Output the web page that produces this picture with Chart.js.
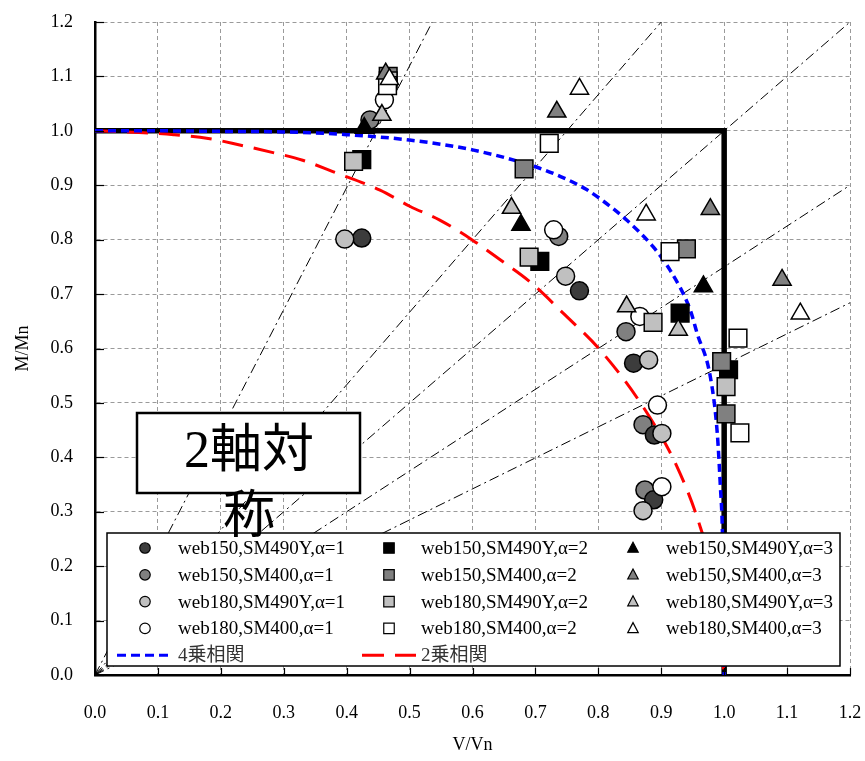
<!DOCTYPE html>
<html><head><meta charset="utf-8">
<script src="https://cdn.jsdelivr.net/npm/chart.js@4/dist/chart.umd.min.js"></script>
<style>html,body{margin:0;padding:0;background:#fff}#wrap{width:865px;height:761px;position:relative}</style>
</head><body><div id="wrap"><canvas id="c" width="865" height="761"></canvas></div>
<script>
// ---- tick labels ----
const xTicks = [0,0.1,0.2,0.3,0.4,0.5,0.6,0.7,0.8,0.9,1.0,1.1,1.2];
const xTickLabels = ['0.0','0.1','0.2','0.3','0.4','0.5','0.6','0.7','0.8','0.9','1.0','1.1','1.2'];
const yTicks = [0,0.1,0.2,0.3,0.4,0.5,0.6,0.7,0.8,0.9,1.0,1.1,1.2];
const yTickLabels = ['0.0','0.1','0.2','0.3','0.4','0.5','0.6','0.7','0.8','0.9','1.0','1.1','1.2'];

// ---- series names ----
const seriesNames = ['web150,SM490Y','web150,SM400','web180,SM490Y','web180,SM400'];
const alphaLabels = ['α=1','α=2','α=3'];

// ---- α=1 (circles) [V/Vn, M/Mn] ----
const c_w150_SM490Y = [[0.424,0.803],[0.770,0.706],[0.856,0.573],[0.889,0.441],[0.888,0.322]];
const c_w150_SM400  = [[0.437,1.020],[0.737,0.806],[0.844,0.631],[0.871,0.460],[0.874,0.340]];
const c_w180_SM490Y = [[0.397,0.801],[0.748,0.733],[0.880,0.579],[0.901,0.444],[0.871,0.302]];
const c_w180_SM400  = [[0.460,1.057],[0.729,0.818],[0.866,0.659],[0.894,0.496],[0.901,0.346]];

// ---- α=2 (squares) ----
const s_w150_SM490Y = [[0.424,0.947],[0.707,0.760],[0.930,0.665],[1.007,0.561]];
const s_w150_SM400  = [[0.466,1.100],[0.682,0.930],[0.940,0.783],[0.996,0.576],[1.003,0.480]];
const s_w180_SM490Y = [[0.411,0.944],[0.466,1.092],[0.690,0.768],[0.887,0.648],[1.003,0.530]];
const s_w180_SM400  = [[0.465,1.083],[0.722,0.977],[0.914,0.778],[1.022,0.619],[1.025,0.445]];

// ---- α=3 (triangles) ----
const t_w150_SM490Y = [[0.428,1.005],[0.677,0.827],[0.967,0.714]];
const t_w150_SM400  = [[0.462,1.105],[0.734,1.035],[0.978,0.856],[1.092,0.726]];
const t_w180_SM490Y = [[0.456,1.029],[0.662,0.858],[0.845,0.677],[0.927,0.634]];
const t_w180_SM400  = [[0.468,1.095],[0.770,1.077],[0.876,0.846],[1.121,0.664]];

// ---- interaction curves ----
const quarticCurve = [[0,1],[0.1,1.0],[0.2,0.999],[0.3,0.998],[0.4,0.993],[0.5,0.983],[0.6,0.965],[0.7,0.934],[0.74,0.916],[0.78,0.893],[0.803,0.875],[0.845,0.836],[0.887,0.787],[0.914,0.744],[0.946,0.671],[0.957,0.628],[0.978,0.548],[0.989,0.445],[0.994,0.346],[0.997,0.272],[0.999,0.15],[1.0,0]];
const squareCurve = [[0,1],[0.07,0.997],[0.125,0.993],[0.18,0.986],[0.23,0.974],[0.283,0.96],[0.33,0.946],[0.378,0.925],[0.453,0.891],[0.501,0.861],[0.548,0.836],[0.599,0.80],[0.644,0.763],[0.692,0.722],[0.744,0.665],[0.803,0.597],[0.871,0.493],[0.925,0.383],[0.962,0.272],[0.985,0.17],[1.0,0]];

// ---- full-strength boundary ----
const boundaryLine = [[0,1],[1,1],[1,0]];

// ---- radial reference lines (from origin to frame edge) ----
const refLineEndX = [0.536, 0.90, 1.2, 1.2, 1.2];
const refLineEndY = [1.2, 1.2, 1.2, 0.90, 0.684];
const originMark = [[0,0]];

const curveLabels = ['4乗相関','2乗相関'];
const boxText = ['2軸対','称'];

const fills = ['#3c3c3c','#808080','#c0c0c0','#ffffff'];
const fillsSolid = ['#000000','#808080','#c0c0c0','#ffffff'];

const toXY = a => a.map(p => ({x:p[0], y:p[1]}));
const datasets = [];

const circleSets = [c_w150_SM490Y,c_w150_SM400,c_w180_SM490Y,c_w180_SM400];
const squareSets = [s_w150_SM490Y,s_w150_SM400,s_w180_SM490Y,s_w180_SM400];
const triSets = [t_w150_SM490Y,t_w150_SM400,t_w180_SM490Y,t_w180_SM400];

let ord = 0;
[3,2,1,0].forEach(i => datasets.push({label:seriesNames[i]+','+alphaLabels[2], data:toXY(triSets[i]), pointStyle:'triangle', pointRadius:10.5, backgroundColor:fillsSolid[i], borderColor:'#000', borderWidth:1.5, order:ord++}));
[3,2,1,0].forEach(i => datasets.push({label:seriesNames[i]+','+alphaLabels[1], data:toXY(squareSets[i]), pointStyle:'rect', pointRadius:12.5, backgroundColor:fillsSolid[i], borderColor:'#000', borderWidth:1.5, order:ord++}));
[3,2,0,1].forEach(i => datasets.push({label:seriesNames[i]+','+alphaLabels[0], data:toXY(circleSets[i]), pointStyle:'circle', pointRadius:9, backgroundColor:fills[i], borderColor:'#000', borderWidth:1.5, order:ord++}));

datasets.push({label:curveLabels[0], data:toXY(quarticCurve), showLine:true, pointRadius:0, borderColor:'#0000ff', borderWidth:3.5, borderDash:[8,5], cubicInterpolationMode:'monotone', order:ord++});
datasets.push({label:curveLabels[1], data:toXY(squareCurve), showLine:true, pointRadius:0, borderColor:'#ff0000', borderWidth:3, borderDash:[21,11], cubicInterpolationMode:'monotone', order:ord++});
datasets.push({label:'boundary', data:toXY(boundaryLine), showLine:true, pointRadius:0, borderColor:'#000', borderWidth:5.5, order:ord++});
refLineEndX.forEach((ex,i) => datasets.push({label:'ref'+i, data:[{x:0,y:0},{x:ex,y:refLineEndY[i]}], showLine:true, pointRadius:0, borderColor:'#000', borderWidth:1, borderDash:[10,4,2,4], order:ord++}));
datasets.push({label:'origin', data:toXY(originMark), pointStyle:'triangle', rotation:225, pointRadius:5, backgroundColor:'#000', borderColor:'#000', borderWidth:1, order:ord++});

const serif = '"Liberation Serif","Times New Roman",serif';

function drawMarker(ctx, style, x, y, s, fill){
  ctx.save();
  ctx.fillStyle = fill; ctx.strokeStyle = '#000'; ctx.lineWidth = 1.2;
  ctx.beginPath();
  if(style==='circle'){ ctx.arc(x,y,s/2,0,Math.PI*2); }
  else if(style==='rect'){ ctx.rect(x-s/2,y-s/2,s,s); }
  else { ctx.moveTo(x,y-s*0.55); ctx.lineTo(x+s*0.5,y+s*0.4); ctx.lineTo(x-s*0.5,y+s*0.4); ctx.closePath(); }
  ctx.fill(); ctx.stroke();
  ctx.restore();
}

const overlay = {
  id:'overlay',
  afterDraw(chart){
    const ctx = chart.ctx;
    const xs = chart.scales.x, ys = chart.scales.y;
    ctx.save();
    const L=107, T=533, R=840, B=666;
    ctx.fillStyle='#fff'; ctx.fillRect(L,T,R-L,B-T);
    ctx.strokeStyle='#000'; ctx.lineWidth=1.5; ctx.strokeRect(L,T,R-L,B-T);
    const rowY = [548,574.8,601.6,628.4,655.2];
    const mX = [145,389,633], tX=[178,421,666];
    const styles = ['circle','rect','triangle'];
    ctx.font = '19px '+serif; ctx.textBaseline='middle'; ctx.fillStyle='#000';
    for(let c=0;c<3;c++){
      for(let r=0;r<4;r++){
        const f = c===0 ? fills[r] : fillsSolid[r];
        drawMarker(ctx, styles[c], mX[c], rowY[r], 10.5, f);
        ctx.fillStyle='#000';
        ctx.fillText(seriesNames[r]+','+alphaLabels[c], tX[c], rowY[r]+1);
      }
    }
    ctx.lineWidth=3; ctx.strokeStyle='#0000ff'; ctx.setLineDash([9,5]);
    ctx.beginPath(); ctx.moveTo(117,rowY[4]); ctx.lineTo(172,rowY[4]); ctx.stroke();
    ctx.strokeStyle='#ff0000'; ctx.setLineDash([22,11]);
    ctx.beginPath(); ctx.moveTo(362,rowY[4]); ctx.lineTo(416,rowY[4]); ctx.stroke();
    ctx.setLineDash([]);
    ctx.font = '19px '+serif+',"Noto Sans CJK JP"'; ctx.fillStyle='#333';
    ctx.fillText(curveLabels[0], tX[0], rowY[4]+1);
    ctx.fillText(curveLabels[1], tX[1], rowY[4]+1);
    ctx.restore();

    ctx.save(); ctx.strokeStyle='#000'; ctx.lineWidth=1.2;
    xTicks.forEach(v=>{ const px=Math.round(xs.getPixelForValue(v))+0.5; ctx.beginPath(); ctx.moveTo(px,chart.chartArea.bottom); ctx.lineTo(px,chart.chartArea.bottom-7); ctx.stroke(); });
    yTicks.forEach(v=>{ const py=Math.round(ys.getPixelForValue(v))+0.5; ctx.beginPath(); ctx.moveTo(chart.chartArea.left,py); ctx.lineTo(chart.chartArea.left+9,py); ctx.stroke(); });
    ctx.restore();

    ctx.save();
    ctx.fillStyle='#fff'; ctx.fillRect(137,413,223,80);
    ctx.strokeStyle='#000'; ctx.lineWidth=2.5; ctx.strokeRect(137,413,223,80);
    ctx.fillStyle='#000'; ctx.textAlign='center'; ctx.textBaseline='middle';
    ctx.font = '52px '+serif+',"Noto Sans CJK JP"';
    ctx.fillText(boxText[0], 249, 453);
    ctx.fillText(boxText[1], 249, 519);
    ctx.restore();
  }
};

const axisCommon = (ticksArr, labels) => ({
  type:'linear', min:0, max:1.2,
  afterBuildTicks: s => { s.ticks = ticksArr.map(v=>({value:v})); },
  ticks:{ callback:(v,i)=>labels[i], font:{family:serif,size:18}, color:'#000', autoSkip:false, maxRotation:0 },
  grid:{ color:'#9a9a9a', lineWidth:1, drawTicks:false },
  border:{ color:'#000', width:2.5, dash:[4,3] }
});

const xOpts = axisCommon(xTicks, xTickLabels);
xOpts.ticks.padding = 27;
xOpts.afterFit = s => { s.height = 86; s.paddingLeft = 0; s.paddingRight = 0; };
xOpts.title = {display:true, text:'V/Vn', font:{family:serif,size:18}, color:'#000', padding:{top:0,bottom:5}};
const yOpts = axisCommon(yTicks, yTickLabels);
yOpts.ticks.padding = 22;
yOpts.afterFit = s => { s.width = 95; s.paddingTop = 0; s.paddingBottom = 0; };
yOpts.title = {display:true, text:'M/Mn', font:{family:serif,size:18}, color:'#000', padding:{top:12,bottom:0}};

new Chart(document.getElementById('c'), {
  type:'scatter',
  data:{datasets},
  options:{
    responsive:false, animation:false, devicePixelRatio:1,
    layout:{padding:{top:22,right:15,left:0,bottom:0}},
    scales:{x:xOpts, y:yOpts},
    plugins:{legend:{display:false}, tooltip:{enabled:false}},
    elements:{line:{tension:0}}
  },
  plugins:[overlay]
});
</script></body></html>
